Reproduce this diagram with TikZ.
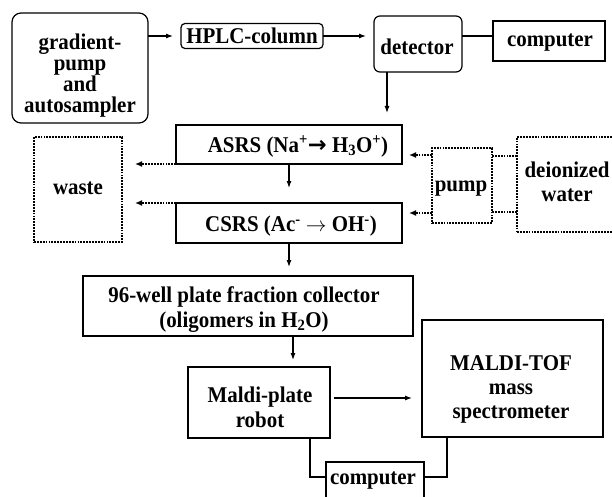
\documentclass[tikz,border=0pt]{standalone}
\usepackage{fontspec}
\setmainfont{Liberation Serif}[FakeStretch=0.93]
\newfontfamily\arrowfont{DejaVu Sans}
\usetikzlibrary{arrows.meta,calc}
\begin{document}
\begin{tikzpicture}[x=1pt,y=-1pt]
\tikzset{
 sbox/.style={draw=black, line width=1.2pt, inner sep=0pt, outer sep=0pt},
 dbox/.style={draw=black, line width=1.9pt, dash pattern=on 1.8pt off 1.1pt, inner sep=0pt, outer sep=0pt},
 txt/.style={font=\bfseries\fontsize{22.5pt}{24pt}\selectfont, align=center, inner sep=0pt, text=black},
 arr/.style={line width=1.1pt, -{Latex[length=7pt,width=5pt]}},
 plainline/.style={line width=1.1pt},
 darr/.style={line width=1.9pt, dash pattern=on 1.8pt off 1.1pt, -{Latex[length=7pt,width=6pt]}},
 dline/.style={line width=1.9pt, dash pattern=on 1.8pt off 1.1pt},
}
\useasboundingbox (0,0) rectangle (612,497);
\clip (0,0) rectangle (612,497);
\fill[white] (0,0) rectangle (612,497);

% boxes
\node[sbox, rounded corners=9pt, minimum width=136pt, minimum height=110pt] (grad) at (80,68) {};
\node[sbox, rounded corners=4pt, minimum width=142pt, minimum height=25pt] (hplc) at (252,36) {};
\node[sbox, rounded corners=6pt, minimum width=88pt, minimum height=56pt] (det) at (418,44) {};
\node[sbox, minimum width=112pt, minimum height=40pt] (comp1) at (549,41) {};
\node[sbox, minimum width=226pt, minimum height=39pt] (asrs) at (289,144.5) {};
\node[sbox, minimum width=226pt, minimum height=40pt] (csrs) at (289,223) {};
\node[dbox, minimum width=88pt, minimum height=105pt] (waste) at (78,189.5) {};
\node[dbox, minimum width=60pt, minimum height=75pt] (pump) at (462,185.5) {};
\node[dbox, minimum width=100pt, minimum height=95pt] (deion) at (567,184.5) {};
\node[sbox, minimum width=330pt, minimum height=60pt] (well) at (248,306) {};
\node[sbox, minimum width=142pt, minimum height=71pt] (mplate) at (259,402.5) {};
\node[sbox, minimum width=181pt, minimum height=117pt] (tof) at (512.5,378.5) {};
\node[sbox, minimum width=98pt, minimum height=37pt] (comp2) at (375,480.5) {};

% texts
\node[txt, font=\bfseries\fontsize{22.5pt}{21pt}\selectfont] (gradT) at (80,75.5) {gradient-\\pump\\and\\autosampler};
\node[txt] (hplcT) at (252,35.5) {HPLC-column};
\node[txt] (detT) at (417,46.5) {detector};
\node[txt] (comp1T) at (550,42.5) {computer};
\node[txt] (asrsT) at (298,146.5) {ASRS (Na\textsuperscript{+}{\arrowfont\bfseries →} H\textsubscript{3}O\textsuperscript{+})};
\node[txt] (csrsT) at (291,226.5) {CSRS (Ac\textsuperscript{-} $\rightarrow$ OH\textsuperscript{-})};
\node[txt] (wasteT) at (78,188.5) {waste};
\node[txt] (pumpT) at (461,189) {pump};
\node[txt] (deionT) at (567,181.5) {deionized\\water};
\node[txt, font=\bfseries\fontsize{22.5pt}{25pt}\selectfont] (wellT) at (244,309.5) {96-well plate fraction collector\\(oligomers in H\textsubscript{2}O)};
\node[txt, font=\bfseries\fontsize{22.5pt}{25pt}\selectfont] (mplateT) at (260,407) {Maldi-plate\\robot};
\node[txt] (tofT) at (511,389) {MALDI-TOF\\mass\\spectrometer};
\node[txt] (comp2T) at (373,480.5) {computer};

% solid connectors
\draw[arr, shorten >=8pt] ([yshift=32pt]grad.east) -- (hplc.west);
\draw[arr, shorten >=8pt] (hplc.east) -- (hplc.east -| det.west);
\draw[plainline] (hplc.east -| det.east) -- (hplc.east -| comp1.west);
\coordinate (d1) at ([xshift=-31pt]det.south);
\draw[arr, shorten >=12pt] (d1) -- (d1 |- asrs.north);
\draw[arr, shorten >=15pt] (asrs.south) -- (csrs.north);
\draw[arr, shorten >=9pt] (csrs.south) -- (csrs.south |- well.north);
\coordinate (w1) at ([xshift=45pt]well.south);
\draw[arr, shorten >=7pt] (w1) -- (w1 |- mplate.north);
\draw[arr, shorten <=4pt, shorten >=10pt] ([yshift=4.5pt]mplate.east) -- ([yshift=4.5pt]mplate.east -| tof.west);
\draw[plainline] ([xshift=51pt]mplate.south) |- ([yshift=3.5pt]comp2.west);
\draw[plainline] ([xshift=-65.5pt]tof.south) |- ([yshift=3.5pt]comp2.east);

% dotted connectors
\draw[darr, shorten >=7pt] ([yshift=30.5pt]pump.west) -- ([yshift=30.5pt]pump.west -| asrs.east);
\draw[darr, shorten >=7pt] ([yshift=-27.5pt]pump.west) -- ([yshift=-27.5pt]pump.west -| csrs.east);
\draw[dline] ([yshift=28.5pt]deion.west) -- ([yshift=28.5pt]deion.west -| pump.east);
\draw[dline] ([yshift=-27.5pt]deion.west) -- ([yshift=-27.5pt]deion.west -| pump.east);
\draw[darr, shorten >=13pt] (asrs.south west) -- (asrs.south west -| waste.east);
\draw[darr, shorten >=13pt] (csrs.north west) -- (csrs.north west -| waste.east);
\end{tikzpicture}
\end{document}
